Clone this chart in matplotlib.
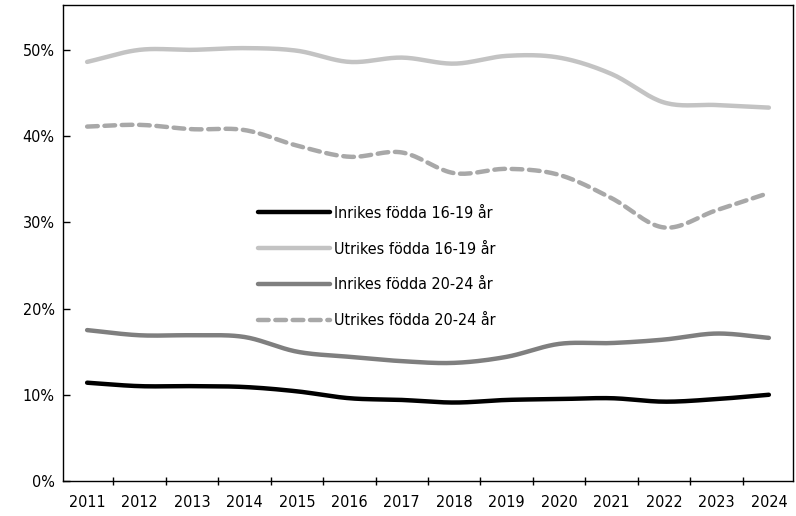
import numpy as np
import matplotlib
matplotlib.use("Agg")
import matplotlib.pyplot as plt
from matplotlib.ticker import FuncFormatter, FixedLocator

plt.rcParams['font.family'] = ['DejaVu Sans']
plt.rcParams['font.stretch'] = 'condensed'

years = [2011, 2012, 2013, 2014, 2015, 2016, 2017, 2018, 2019, 2020, 2021, 2022, 2023, 2024]
inrikes_16_19 = [11.4, 11.0, 11.0, 10.9, 10.4, 9.6, 9.4, 9.1, 9.4, 9.5, 9.6, 9.2, 9.5, 10.0]
utrikes_16_19 = [48.6, 50.0, 50.0, 50.2, 49.9, 48.6, 49.1, 48.4, 49.3, 49.1, 47.2, 43.9, 43.6, 43.3]
inrikes_20_24 = [17.5, 16.9, 16.9, 16.7, 15.0, 14.4, 13.9, 13.7, 14.4, 15.9, 16.0, 16.4, 17.1, 16.6]
utrikes_20_24 = [41.1, 41.3, 40.8, 40.7, 38.9, 37.6, 38.1, 35.7, 36.2, 35.5, 32.8, 29.4, 31.4, 33.4]
labels = ['Inrikes födda 16-19 år', 'Utrikes födda 16-19 år',
          'Inrikes födda 20-24 år', 'Utrikes födda 20-24 år']


def smooth(x, y, n=20):
    x = np.asarray(x, float)
    y = np.asarray(y, float)
    xp = np.concatenate([[2 * x[0] - x[1]], x, [2 * x[-1] - x[-2]]])
    yp = np.concatenate([[2 * y[0] - y[1]], y, [2 * y[-1] - y[-2]]])
    xs, ys = [], []
    for i in range(1, len(xp) - 2):
        t = np.linspace(0, 1, n, endpoint=False)
        p0, p1, p2, p3 = yp[i - 1], yp[i], yp[i + 1], yp[i + 2]
        yy = 0.5 * ((2 * p1) + (-p0 + p2) * t + (2 * p0 - 5 * p1 + 4 * p2 - p3) * t ** 2
                    + (-p0 + 3 * p1 - 3 * p2 + p3) * t ** 3)
        xs.append(xp[i] + (xp[i + 1] - xp[i]) * t)
        ys.append(yy)
    xs.append([x[-1]])
    ys.append([y[-1]])
    return np.concatenate(xs), np.concatenate(ys)


fig = plt.figure(figsize=(7.96, 5.16), dpi=100)
ax = fig.add_axes([63 / 796, 35 / 516, 730 / 796, 476 / 516])

series = [
    (inrikes_16_19, dict(color='#000000', lw=3.2, ls='-')),
    (utrikes_16_19, dict(color='#c3c3c3', lw=3.2, ls='-')),
    (inrikes_20_24, dict(color='#7f7f7f', lw=3.2, ls='-')),
    (utrikes_20_24, dict(color='#a8a8a8', lw=3.2, ls=(0, (2.4, 1.5)))),
]
for (vals, st), lab in zip(series, labels):
    xs, ys = smooth(years, vals)
    ax.plot(xs, ys, label=lab, solid_capstyle='round', dash_capstyle='round', **st)

ax.set_xlim(years[0] - 0.46, years[-1] + 0.46)
ax.set_ylim(0, 55.2)
ax.set_yticks([0, 10, 20, 30, 40, 50])
ax.yaxis.set_major_formatter(FuncFormatter(lambda v, p: f"{v:.0f}%"))
ax.set_xticks(years)
ax.set_xticklabels([str(y) for y in years])
ax.xaxis.set_minor_locator(FixedLocator([y + 0.5 for y in years[:-1]]))
ax.tick_params(axis='x', which='major', length=0, pad=10, labelsize=11.5)
ax.tick_params(axis='x', which='minor', length=6, direction='inout', width=1)
ax.tick_params(axis='y', which='major', length=5, direction='in', width=1, pad=6, labelsize=11.5)
for s in ax.spines.values():
    s.set_linewidth(1.0)
    s.set_color('#000000')

leg = ax.legend(loc='upper left', bbox_to_anchor=(0.267, 0.578), frameon=False,
                handlelength=4.5, handletextpad=0.25, labelspacing=1.3,
                fontsize=11.5, borderpad=0, borderaxespad=0)

fig.savefig('out.png', dpi=100)
